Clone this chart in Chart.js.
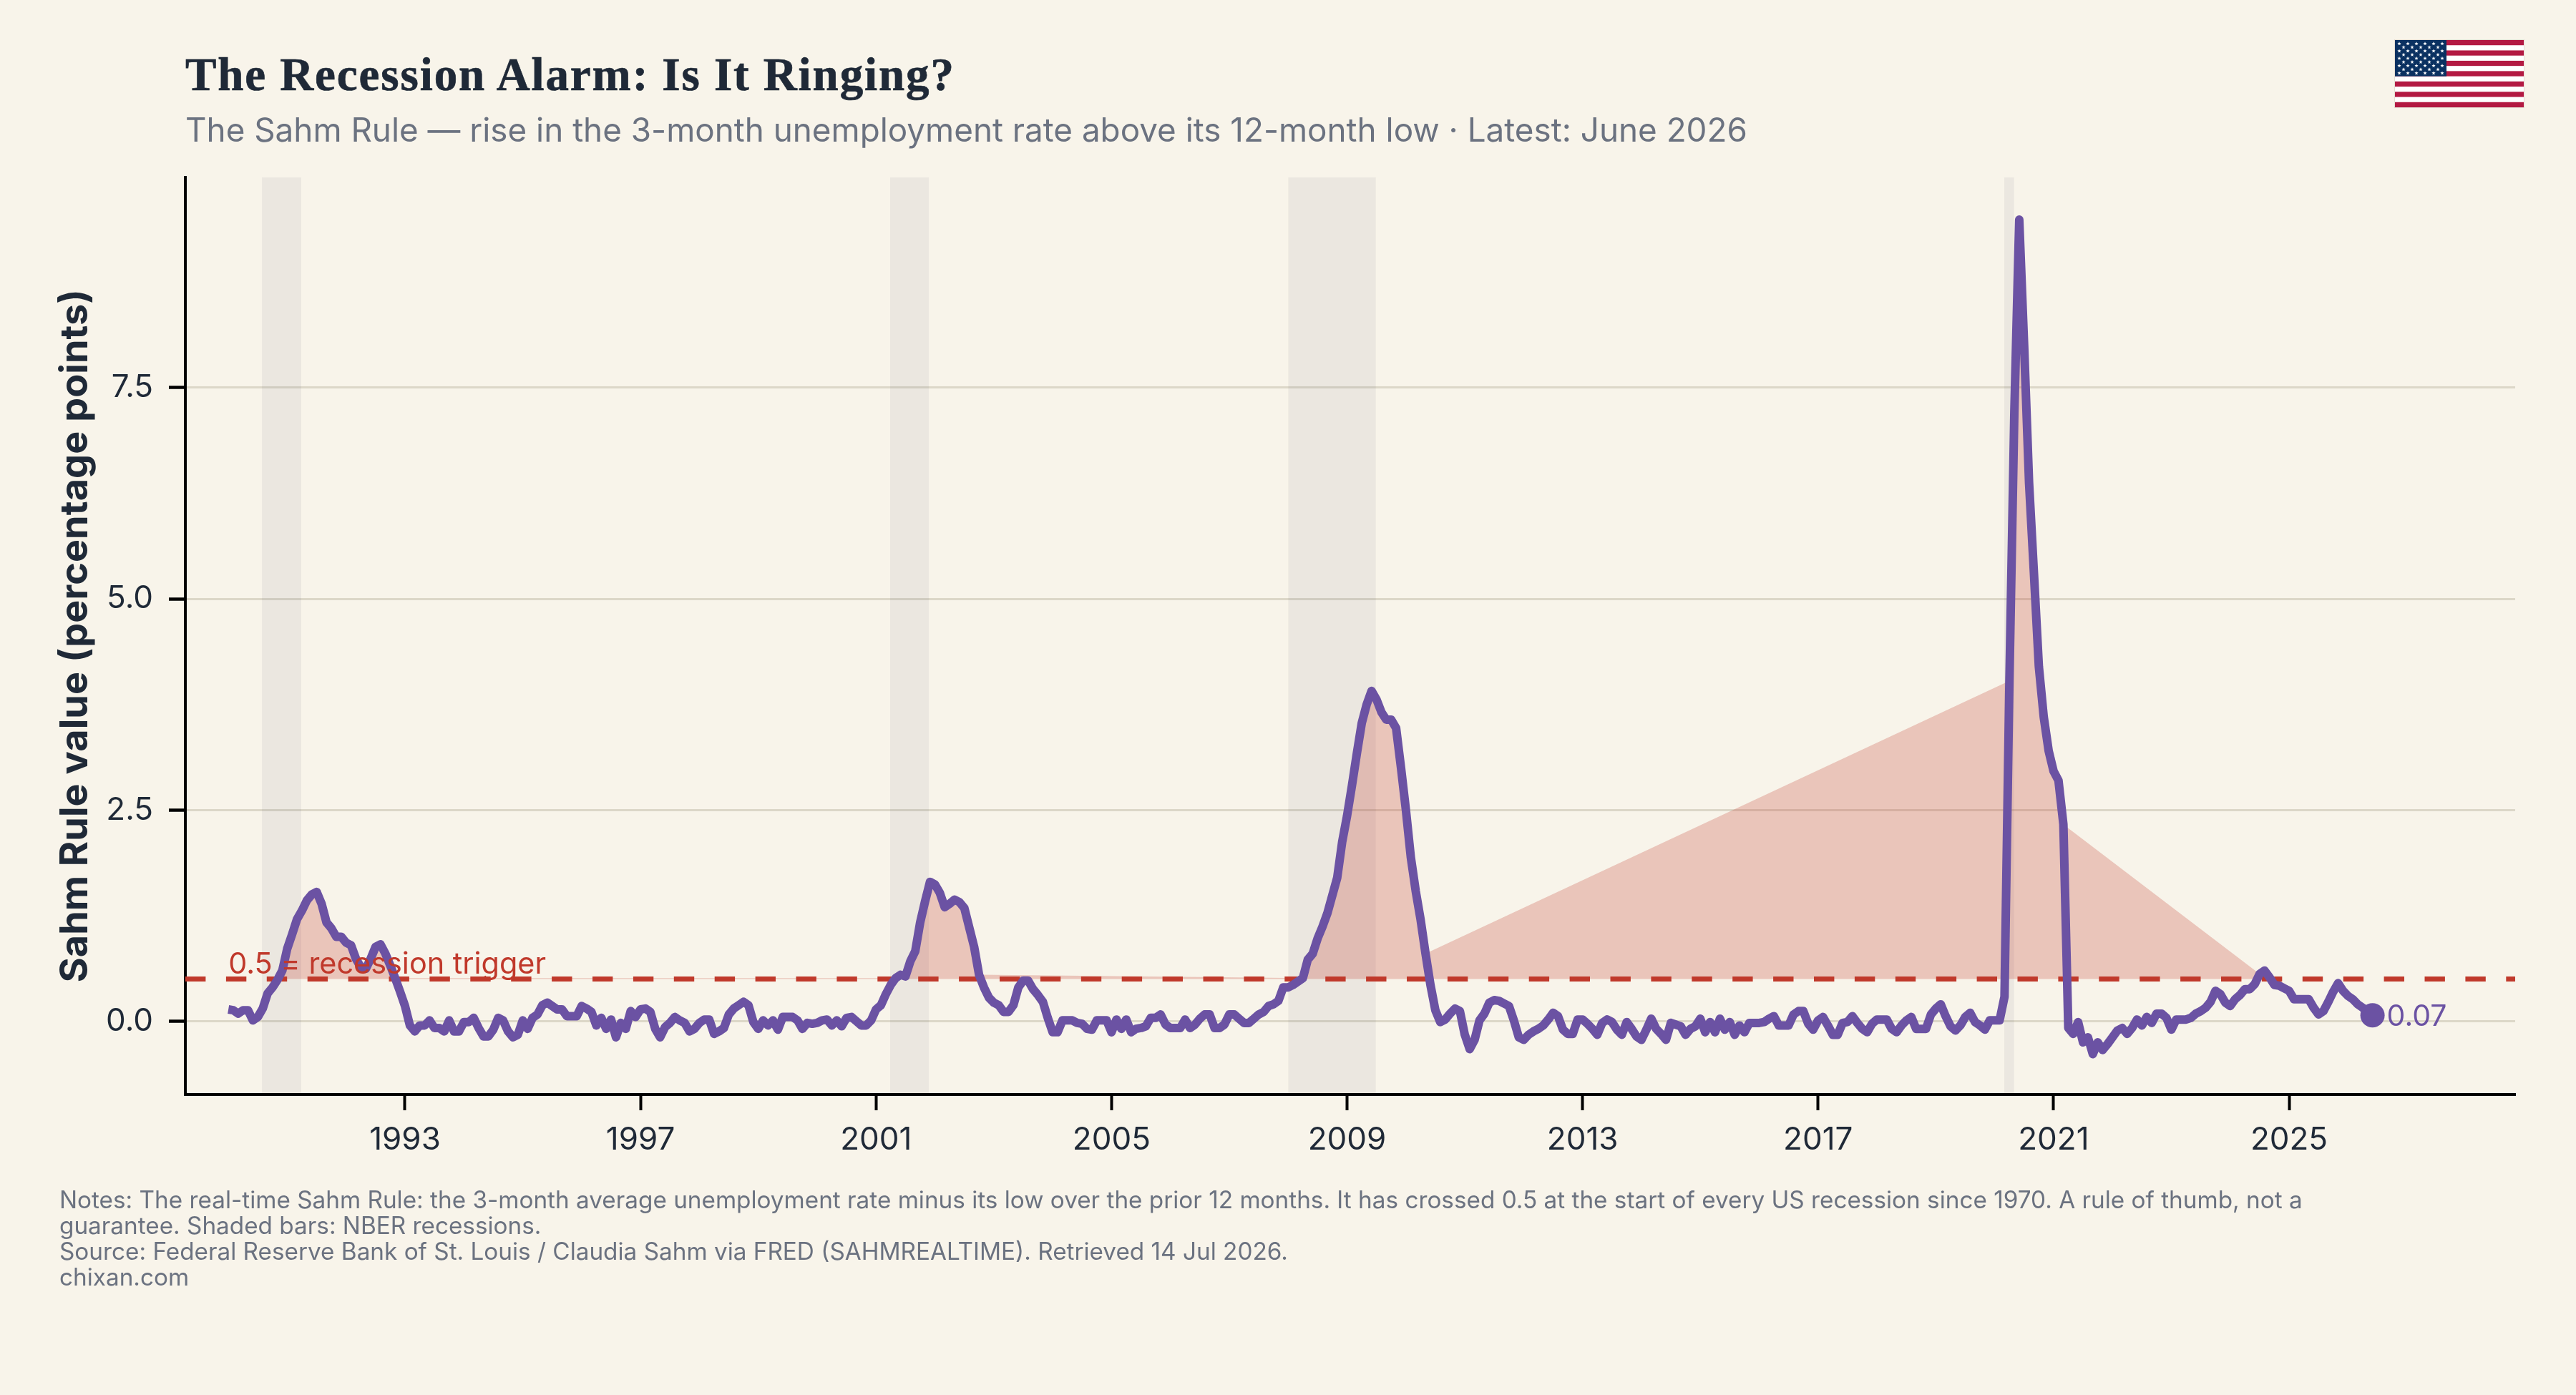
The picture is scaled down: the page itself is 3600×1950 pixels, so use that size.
<!DOCTYPE html>
<html lang="en">
<head>
<meta charset="utf-8">
<title>The Recession Alarm: Is It Ringing?</title>
<script src="https://cdn.jsdelivr.net/npm/chart.js@4"></script>
<style>
  html, body { margin: 0; padding: 0; background: #F8F4EA; }
  #stage { position: relative; width: 3600px; height: 1950px; overflow: hidden; background: #F8F4EA; }
  #chart { position: absolute; left: 0; top: 0; }
  .txt { position: absolute; white-space: nowrap; margin: 0; font-family: Inter, sans-serif; }
  #headline { left: 259px; top: 64px; font: 700 65px/80px "Liberation Serif", serif; letter-spacing: 1.9px; -webkit-text-stroke: 0.7px #1F2937; color: #1F2937; }
  #subhead { left: 259px; top: 155px; font-size: 45.8px; line-height: 54px; color: #6B7280; }
  #notes { left: 83px; top: 1659px; font-size: 33.3px; line-height: 36px; color: #6B7280; }
  #flag { position: absolute; left: 3346px; top: 55px; }
</style>
</head>
<body>
<div id="stage">
  <canvas id="chart" width="3600" height="1950"></canvas>
  <h1 class="txt" id="headline">The Recession Alarm: Is It Ringing?</h1>
  <p class="txt" id="subhead">The Sahm Rule — rise in the 3-month unemployment rate above its 12-month low · Latest: June 2026</p>
  <p class="txt" id="notes">Notes: The real-time Sahm Rule: the 3-month average unemployment rate minus its low over the prior 12 months. It has crossed 0.5 at the start of every US recession since 1970. A rule of thumb, not a<br>guarantee. Shaded bars: NBER recessions.<br>Source: Federal Reserve Bank of St. Louis / Claudia Sahm via FRED (SAHMREALTIME). Retrieved 14 Jul 2026.<br>chixan.com</p>
  <svg id="flag" width="182" height="96" viewBox="0 0 182 96" xmlns="http://www.w3.org/2000/svg"></svg>
</div>
<script>
// Monthly real-time Sahm Rule readings, January 1990 to June 2026, one row per year.
const startYear = 1990;
const sahmValues = [
  .14, .13, .09, .13, .13, .01, .05, .15, .33, .40, .49, .60,
  .86, 1.03, 1.21, 1.31, 1.43, 1.50, 1.53, 1.39, 1.17, 1.10, 1.00, 1.00,
  .93, .90, .74, .64, .62, .74, .88, .91, .80, .66, .51, .35,
  .18, -.05, -.12, -.05, -.05, .01, -.08, -.08, -.12, .01, -.12, -.12,
  -.01, -.01, .04, -.08, -.18, -.18, -.10, .04, .01, -.12, -.19, -.16,
  .01, -.09, .04, .08, .19, .22, .18, .14, .14, .06, .06, .06,
  .18, .15, .11, -.05, .04, -.09, .02, -.19, -.02, -.09, .12, .05,
  .14, .15, .11, -.09, -.19, -.07, -.02, .05, .01, -.02, -.12, -.09,
  -.02, .02, .02, -.15, -.12, -.08, .08, .15, .19, .23, .19, -.01,
  -.09, .01, -.05, .01, -.10, .05, .05, .05, .01, -.09, -.02, -.03,
  -.02, .01, .02, -.05, .01, -.06, .04, .05, 0, -.05, -.05, .01,
  .14, .19, .32, .43, .51, .55, .53, .71, .83, 1.17, 1.42, 1.65,
  1.62, 1.52, 1.35, 1.39, 1.44, 1.41, 1.34, 1.11, .88, .55, .40, .28,
  .22, .19, .11, .11, .19, .40, .48, .48, .38, .31, .23, .04,
  -.13, -.13, .01, .01, .01, -.02, -.03, -.09, -.10, .01, .01, .01,
  -.13, .02, -.09, .02, -.13, -.09, -.08, -.06, .04, .04, .08, -.04,
  -.08, -.08, -.08, .02, -.08, -.04, .03, .08, .08, -.08, -.08, -.04,
  .08, .08, .03, -.02, -.02, .03, .08, .11, .18, .20, .24, .40,
  .40, .43, .47, .51, .73, .80, .98, 1.12, 1.28, 1.49, 1.70, 2.12,
  2.43, 2.79, 3.17, 3.53, 3.75, 3.91, 3.81, 3.66, 3.57, 3.57, 3.47, 3.00,
  2.50, 1.94, 1.54, 1.20, .80, .43, .13, -.01, .02, .09, .15, .12,
  -.16, -.33, -.22, .01, .09, .22, .25, .24, .21, .18, .01, -.19,
  -.22, -.16, -.12, -.09, -.05, .02, .10, .06, -.10, -.15, -.15, .02,
  .02, -.03, -.09, -.16, -.02, .02, -.01, -.10, -.16, -.01, -.09, -.18,
  -.22, -.10, .03, -.09, -.15, -.22, -.02, -.04, -.06, -.16, -.09, -.06,
  .03, -.13, -.01, -.13, .03, -.10, -.01, -.16, -.05, -.13, -.02, -.02,
  -.02, -.01, .03, .06, -.05, -.05, -.05, .08, .12, .12, -.03, -.10,
  .01, .05, -.05, -.16, -.16, -.02, -.01, .06, -.02, -.09, -.13, -.03,
  .02, .02, .02, -.09, -.13, -.05, .01, .05, -.09, -.09, -.09, .08,
  .15, .20, .06, -.06, -.11, -.05, .05, .10, -.01, -.05, -.10, .01,
  .01, .01, .29, 4.03, 7.20, 9.49, 8.00, 6.38, 5.30, 4.20, 3.60, 3.20,
  2.96, 2.85, 2.33, -.08, -.15, -.01, -.25, -.19, -.39, -.25, -.34, -.27,
  -.19, -.11, -.08, -.15, -.08, .02, -.05, .05, -.02, .09, .09, .04,
  -.10, .02, .02, .02, .04, .09, .12, .16, .23, .36, .32, .22,
  .18, .26, .31, .38, .38, .44, .56, .60, .52, .43, .42, .39,
  .36, .26, .26, .26, .26, .16, .08, .12, .23, .35, .45, .36,
  .30, .26, .20, .16, .11, .07
];

// Recession spans as fractional years, [start, end].
const recessionSpans = [
  [1990.57, 1991.24],
  [2001.24, 2001.90],
  [2008.00, 2009.49],
  [2020.16, 2020.33]
];

const triggerLevel = 0.5;
const triggerLabel = "0.5 = recession trigger";
const xTickYears = [1993, 1997, 2001, 2005, 2009, 2013, 2017, 2021, 2025];
const yTickValues = [0, 2.5, 5, 7.5];
const yAxisTitle = "Sahm Rule value (percentage points)";

const xLimits = [1989.269, 2028.84];
const yLimits = [-0.868, 9.99];

const INK = "#1F2937";
const PURPLE = "#6B52A3";
const RED = "#C0392B";

const sahmPoints = sahmValues.map((v, i) => ({ x: startYear + i / 12, y: v }));
// Only the months above the trigger feed the shaded area, joined directly across the gaps.
const abovePoints = sahmPoints.filter(p => p.y > triggerLevel);
const latestPoint = sahmPoints[sahmPoints.length - 1];

const recessionDatasets = recessionSpans.map(([a, b]) => ({
  data: [{ x: a, y: yLimits[1] }, { x: b, y: yLimits[1] }],
  borderWidth: 0,
  pointRadius: 0,
  backgroundColor: "rgba(26,26,46,0.055)",
  fill: "start",
  order: 6
}));

// Text annotations anchored through the scales, painted over the datasets.
const annotationPlugin = {
  id: "annotations",
  afterDatasetsDraw(chart) {
    const { ctx, scales: { x, y } } = chart;
    ctx.save();
    ctx.textBaseline = "alphabetic";
    ctx.textAlign = "left";
    ctx.font = "41.4px Inter";
    ctx.fillStyle = RED;
    ctx.fillText(triggerLabel, x.getPixelForValue(startYear), y.getPixelForValue(triggerLevel) - 7);
    ctx.font = "41px Inter";
    ctx.fillStyle = PURPLE;
    ctx.fillText(latestPoint.y.toFixed(2), x.getPixelForValue(latestPoint.x) + 20, y.getPixelForValue(latestPoint.y) + 14.6);
    ctx.restore();
  }
};

new Chart(document.getElementById("chart"), {
  type: "line",
  plugins: [annotationPlugin],
  data: {
    datasets: [
      ...recessionDatasets,
      {
        data: abovePoints,
        borderWidth: 0,
        pointRadius: 0,
        backgroundColor: "rgba(192,57,43,0.25)",
        fill: { value: triggerLevel },
        order: 5
      },
      {
        data: [{ x: xLimits[0], y: triggerLevel }, { x: xLimits[1], y: triggerLevel }],
        borderColor: RED,
        borderWidth: 7,
        borderDash: [28.4, 28.5],
        pointRadius: 0,
        fill: false,
        order: 4
      },
      {
        data: sahmPoints,
        borderColor: PURPLE,
        borderWidth: 12,
        borderJoinStyle: "round",
        borderCapStyle: "butt",
        pointRadius: 0,
        tension: 0,
        fill: false,
        order: 3
      },
      {
        data: [latestPoint],
        backgroundColor: PURPLE,
        borderWidth: 0,
        pointRadius: 17,
        showLine: false,
        order: 2
      }
    ]
  },
  options: {
    responsive: false,
    animation: false,
    devicePixelRatio: 1,
    parsing: false,
    normalized: true,
    layout: { padding: { left: 0, top: 248, right: 85, bottom: 0 } },
    plugins: { legend: { display: false }, tooltip: { enabled: false }, title: { display: false } },
    scales: {
      x: {
        type: "linear",
        min: xLimits[0],
        max: xLimits[1],
        afterFit(scale) { scale.height = 420; },
        afterBuildTicks(scale) { scale.ticks = xTickYears.map(v => ({ value: v })); },
        grid: { display: true, drawOnChartArea: false, drawTicks: true, tickLength: 22, tickWidth: 4, tickColor: "#000000" },
        border: { display: true, color: "#000000", width: 4 },
        ticks: {
          autoSkip: false,
          maxRotation: 0,
          padding: 15,
          color: INK,
          font: { family: "Inter", size: 44 },
          callback: v => String(v)
        }
      },
      y: {
        type: "linear",
        min: yLimits[0],
        max: yLimits[1],
        afterFit(scale) { scale.width = 259; },
        afterBuildTicks(scale) { scale.ticks = yTickValues.map(v => ({ value: v })); },
        grid: { display: true, color: "#DCD7C8", lineWidth: 3, drawTicks: true, tickLength: 23, tickWidth: 4.5, tickColor: "#000000" },
        border: { display: true, color: "#000000", width: 4 },
        title: {
          display: true,
          text: yAxisTitle,
          color: INK,
          font: { family: "Inter", size: 54, weight: "700" },
          padding: { top: 73, bottom: 0 }
        },
        ticks: {
          autoSkip: false,
          padding: 22,
          color: INK,
          font: { family: "Inter", size: 44 },
          callback: v => v.toFixed(1)
        }
      }
    }
  }
});

// Flag emblem in the top corner.
(function drawFlag() {
  const svg = document.getElementById("flag");
  const NS = "http://www.w3.org/2000/svg";
  const add = (name, attrs) => {
    const el = document.createElementNS(NS, name);
    for (const k in attrs) el.setAttribute(k, attrs[k]);
    svg.appendChild(el);
  };
  const W = 180, H = 94, ox = 1, oy = 1, sh = H / 13;
  add("rect", { x: 0, y: 0, width: 182, height: 96, fill: "#E4DED3" });
  add("rect", { x: ox, y: oy, width: W, height: H, fill: "#FFFFFF" });
  for (let s = 0; s < 13; s += 2) add("rect", { x: ox, y: oy + s * sh, width: W, height: sh, fill: "#B31942" });
  add("rect", { x: ox, y: oy, width: 72, height: 7 * sh, fill: "#0A3161" });
  const star = (cx, cy, r) => {
    let pts = "";
    for (let k = 0; k < 10; k++) {
      const rad = k % 2 ? r * 0.42 : r;
      const ang = -Math.PI / 2 + k * Math.PI / 5;
      pts += (cx + rad * Math.cos(ang)).toFixed(2) + "," + (cy + rad * Math.sin(ang)).toFixed(2) + " ";
    }
    add("polygon", { points: pts, fill: "#FFFFFF" });
  };
  for (let row = 0; row < 9; row++) {
    const odd = row % 2 === 1;
    const n = odd ? 5 : 6;
    for (let c = 0; c < n; c++) star(ox + 6 + (odd ? 6 : 0) + c * 12, oy + 5 + row * 5.15, 2.8);
  }
})();
</script>
</body>
</html>
